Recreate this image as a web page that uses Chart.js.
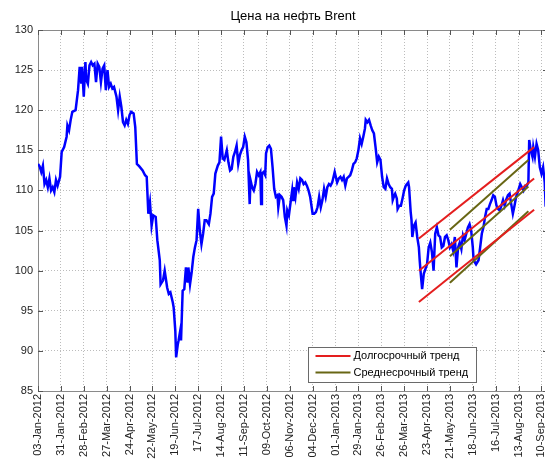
<!DOCTYPE html>
<html>
<head>
<meta charset="utf-8">
<script src="https://cdn.jsdelivr.net/npm/chart.js@4"></script>
<style>
  html, body { margin: 0; padding: 0; overflow: hidden; background: #fff; }
  #wrap { width: 552px; height: 459px; }
</style>
</head>
<body>
<div id="wrap"><canvas id="brentChart"></canvas></div>
<script>
// Brent prices, x = days since 03-Jan-2012
const startDate = '03-Jan-2012';
const endDate = '18-Sep-2013';

const priceDays = [
    0, 2, 4, 6, 8, 10, 12, 14, 16, 18, 20, 22, 24, 27, 29, 32, 35, 36, 38, 40,
    42, 46, 49, 51, 53, 54, 56, 58, 59, 61, 63, 65, 67, 69, 71, 73, 75, 77, 79, 81,
    83, 85, 87, 89, 91, 93, 96, 98, 100, 102, 104, 106, 108, 110, 112, 114, 117, 119, 121, 124,
    128, 131, 133, 135, 137, 139, 141, 144, 146, 149, 150, 153, 155, 158, 160, 162, 165, 166, 168, 169,
    171, 172, 174, 175, 177, 179, 181, 183, 184, 186, 188, 190, 192, 194, 196, 198, 200, 202, 204, 206,
    209, 211, 213, 215, 217, 220, 222, 224, 226, 228,
    231, 233, 235, 237, 239, 241, 243, 245, 247, 249, 251, 253, 255, 257, 259, 260, 262, 264, 266, 268,
    270, 272, 273, 274, 276, 278, 279, 281, 283, 285, 287, 289, 291, 293, 294, 296, 298, 300, 302, 304,
    305, 307, 309, 311, 312, 313, 315, 317, 319, 321, 323, 325, 327, 329, 331, 333, 336, 338, 340, 342,
    344, 346, 348, 350, 352, 354, 356, 358, 360, 363,
    366, 368, 370, 372, 374, 376, 378, 380, 382, 384, 386, 388, 390, 392, 394, 396, 398, 400, 401, 403,
    405, 407, 409, 411, 413, 415, 417, 419, 421, 423, 425, 427, 429, 431, 433, 434, 436, 437, 439, 440,
    442, 444, 446, 448, 450, 453, 454, 456, 457, 458, 460, 462, 464, 466, 467, 468, 470, 472, 474, 476,
    478, 480,
    482, 484, 486, 488, 490, 492, 494, 496, 498, 500, 502, 504, 506, 508, 510, 512, 514, 516, 518, 520,
    522, 524, 526, 528, 530, 532, 533, 536, 539, 541, 543, 545, 547, 549, 551, 553, 555, 557, 559, 561,
    563, 565, 567, 569, 571, 573, 575, 577, 579, 581, 583, 585, 587, 590, 592, 594, 596, 598, 600, 601,
    603, 605, 606, 608, 610, 612, 614, 616, 618, 620, 621, 623
];

const prices = [
    113.3, 113.0, 112.3, 113.1, 110.8, 111.3, 110.4, 111.5, 110.0, 110.4, 109.8, 111.3, 110.6, 111.7, 114.8, 115.4, 116.7, 118.1, 117.5, 118.8,
    119.8, 120.0, 122.5, 125.4, 123.3, 125.4, 121.7, 126.0, 123.8, 123.3, 125.6, 126.0, 125.6, 125.8, 123.5, 125.8, 125.4, 123.5, 125.2, 125.6,
    122.5, 125.0, 122.9, 123.3, 122.7, 122.9, 121.7, 120.0, 121.7, 120.4, 118.5, 118.1, 118.8, 118.3, 119.4, 119.8, 119.6, 117.9, 113.3, 113.0,
    112.5, 111.9, 111.7, 107.1, 108.5, 105.6, 106.9, 106.7, 103.8, 101.3, 98.3, 98.8, 100.0, 97.9, 97.1, 97.3, 96.0, 95.4, 92.5, 89.2,
    90.8, 91.3, 92.5, 91.3, 97.5, 97.7, 100.4, 98.5, 100.4, 98.3, 99.8, 101.7, 102.9, 103.8, 107.7, 105.0, 103.3, 104.6, 106.3, 106.3,
    105.8, 107.1, 109.2, 109.6, 112.1, 113.1, 113.5, 116.7, 114.0, 113.8,
    115.0, 113.5, 112.5, 112.7, 114.2, 114.8, 115.6, 113.3, 114.4, 115.0, 115.4, 116.7, 116.0, 113.8, 108.3, 111.3, 110.4, 110.0, 110.8, 112.3,
    111.9, 112.3, 108.3, 112.1, 112.3, 111.9, 114.6, 115.4, 115.6, 115.2, 112.9, 110.2, 109.2, 109.4, 107.9, 109.4, 109.2, 108.8, 106.7, 105.6,
    107.5, 106.9, 108.5, 110.0, 108.8, 110.4, 109.2, 111.0, 110.2, 111.5, 111.3, 110.8, 111.0, 110.6, 110.0, 109.2, 107.1, 107.1, 107.3, 107.9,
    109.2, 107.9, 108.8, 110.2, 109.2, 110.4, 110.8, 110.6, 111.0, 112.3,
    111.0, 111.5, 111.7, 111.3, 111.7, 110.6, 111.5, 111.7, 111.9, 112.5, 113.3, 113.5, 114.0, 115.0, 116.5, 115.8, 116.7, 117.7, 118.8, 118.5,
    118.8, 118.1, 117.5, 117.1, 115.4, 113.5, 114.2, 113.8, 111.7, 110.4, 110.2, 111.5, 110.8, 110.4, 110.2, 108.8, 109.4, 109.6, 109.0, 107.7,
    108.1, 108.1, 109.0, 110.0, 110.6, 111.0, 110.4, 107.3, 106.3, 104.2, 105.6, 106.0, 104.2, 102.9, 101.3, 100.0, 97.7, 99.6, 100.2, 100.8,
    102.9, 103.5,
    102.3, 100.0, 104.6, 105.4, 104.4, 104.2, 102.9, 103.1, 104.2, 104.4, 103.8, 102.9, 103.3, 102.5, 104.2, 100.4, 102.9, 103.5, 102.7, 104.4,
    103.8, 104.6, 105.4, 105.8, 105.0, 102.9, 101.3, 100.8, 101.3, 102.9, 104.6, 105.4, 106.7, 107.7, 107.7, 108.3, 108.8, 109.4, 109.2, 108.1,
    107.7, 107.5, 108.1, 108.8, 108.1, 108.9, 109.4, 109.6, 108.3, 107.1, 108.1, 109.2, 109.8, 110.8, 110.4, 110.0, 110.6, 110.6, 111.0, 116.3,
    115.0, 114.2, 115.4, 114.2, 115.8, 115.0, 112.9, 112.1, 112.9, 111.0, 108.3, 108.5
];

// Trend channels (start / end)
const longTrendDates = ['13-Apr-2013', '01-Sep-2013'];
const longTrendUpper = [104.0, 115.4];
const longTrendMiddle = [100.0, 111.5];
const longTrendLower = [96.1, 107.6];

const midTrendDates = ['21-May-2013', '25-Aug-2013'];
const midTrendUpper = [105.1, 113.8];
const midTrendMiddle = [101.8, 110.5];
const midTrendLower = [98.5, 107.4];

const xTickLabels = ['03-Jan-2012', '31-Jan-2012', '28-Feb-2012', '27-Mar-2012', '24-Apr-2012', '22-May-2012',
    '19-Jun-2012', '17-Jul-2012', '14-Aug-2012', '11-Sep-2012', '09-Oct-2012', '06-Nov-2012', '04-Dec-2012',
    '01-Jan-2013', '29-Jan-2013', '26-Feb-2013', '26-Mar-2013', '23-Apr-2013', '21-May-2013', '18-Jun-2013',
    '16-Jul-2013', '13-Aug-2013', '10-Sep-2013'];
const yTicks = [85, 90, 95, 100, 105, 110, 115, 120, 125, 130];

const titleText = 'Цена на нефть Brent';
const longTrendLabel = 'Долгосрочный тренд';
const midTrendLabel = 'Среднесрочный тренд';

const MONTHS = { Jan: 0, Feb: 1, Mar: 2, Apr: 3, May: 4, Jun: 5, Jul: 6, Aug: 7, Sep: 8, Oct: 9, Nov: 10, Dec: 11 };
function toUTC(s) {
    const [d, m, y] = s.split('-');
    return Date.UTC(+y, MONTHS[m], +d);
}
function dayOf(s) {
    return (toUTC(s) - toUTC(startDate)) / 86400000;
}

const RED = 'rgb(228, 30, 30)';
const OLIVE = 'rgb(104, 102, 20)';
const AXIS = '#8a8a8a';
const GRID = '#bcbcbc';

function trendSet(dates, values, color, label) {
    return {
        label: label,
        data: dates.map((d, i) => ({ x: dayOf(d), y: values[i] })),
        borderColor: color,
        borderWidth: 2,
        pointRadius: 0,
        fill: false
    };
}

// MATLAB-like frame: top border, inner ticks and the boxed legend
const framePlugin = {
    id: 'frame',
    afterDraw(chart) {
        const { ctx, chartArea: a, scales: { x, y } } = chart;
        ctx.save();
        ctx.lineWidth = 1;
        ctx.strokeStyle = AXIS;
        ctx.beginPath();
        ctx.moveTo(a.left, a.top + 0.5);
        ctx.lineTo(a.right, a.top + 0.5);
        ctx.stroke();

        ctx.strokeStyle = '#555';
        ctx.beginPath();
        x.ticks.forEach(t => {
            const px = Math.round(x.getPixelForValue(t.value)) + 0.5;
            ctx.moveTo(px, a.bottom); ctx.lineTo(px, a.bottom - 5);
            ctx.moveTo(px, a.top); ctx.lineTo(px, a.top + 5);
        });
        y.ticks.forEach(t => {
            const py = Math.round(y.getPixelForValue(t.value)) + 0.5;
            ctx.moveTo(a.left, py); ctx.lineTo(a.left + 5, py);
            ctx.moveTo(a.right, py); ctx.lineTo(a.right - 5, py);
        });
        ctx.stroke();

        // legend box
        const items = chart.data.datasets.filter(ds => ds.inLegend);
        const bx = a.left + 270.5, by = a.bottom - 43.5, bw = 168, bh = 35;
        ctx.fillStyle = '#fff';
        ctx.fillRect(bx, by, bw, bh);
        ctx.strokeStyle = '#6a6a6a';
        ctx.strokeRect(bx, by, bw, bh);
        ctx.font = '11px "Liberation Sans", Arial, sans-serif';
        ctx.textBaseline = 'middle';
        items.forEach((ds, i) => {
            const ly = by + 8.5 + i * 16.5;
            ctx.strokeStyle = ds.borderColor;
            ctx.lineWidth = 2;
            ctx.beginPath();
            ctx.moveTo(bx + 7, ly);
            ctx.lineTo(bx + 42, ly);
            ctx.stroke();
            ctx.fillStyle = '#000';
            ctx.fillText(ds.label, bx + 45, ly);
        });
        ctx.restore();
    }
};

Chart.defaults.font.family = '"Liberation Sans", Arial, sans-serif';
Chart.defaults.color = '#222';

const longUpper = trendSet(longTrendDates, longTrendUpper, RED, longTrendLabel);
longUpper.inLegend = true;
const midUpper = trendSet(midTrendDates, midTrendUpper, OLIVE, midTrendLabel);
midUpper.inLegend = true;

const data = {
    datasets: [
        longUpper,
        trendSet(longTrendDates, longTrendMiddle, RED, longTrendLabel),
        trendSet(longTrendDates, longTrendLower, RED, longTrendLabel),
        midUpper,
        trendSet(midTrendDates, midTrendMiddle, OLIVE, midTrendLabel),
        trendSet(midTrendDates, midTrendLower, OLIVE, midTrendLabel),
        {
            label: 'Brent',
            data: priceDays.map((d, i) => ({ x: d, y: prices[i] })),
            borderColor: '#0000ff',
            borderWidth: 2.5,
            pointRadius: 0,
            tension: 0,
            fill: false
        }
    ]
};

const config = {
    type: 'line',
    data: data,
    plugins: [framePlugin],
    options: {
        responsive: true,
        maintainAspectRatio: false,
        animation: false,
        events: [],
        layout: { padding: { left: 0, right: 4, top: 0, bottom: 0 } },
        plugins: {
            legend: { display: false },
            tooltip: { enabled: false },
            title: {
                display: true,
                text: titleText,
                fullSize: false,
                color: '#000',
                font: { size: 13, weight: 'normal' },
                padding: { top: 9, bottom: 5.4 }
            }
        },
        scales: {
            x: {
                type: 'linear',
                min: 0,
                max: dayOf(endDate),
                afterBuildTicks: scale => {
                    scale.ticks = xTickLabels.map(l => ({ value: dayOf(l) }));
                },
                afterFit: scale => {
                    scale.height = 68;
                    scale.paddingLeft = 0;
                    scale.paddingRight = 0;
                },
                grid: { color: GRID, lineWidth: 1, drawTicks: false },
                border: { color: AXIS, width: 1, dash: [1, 2] },
                ticks: {
                    autoSkip: false,
                    minRotation: 90,
                    maxRotation: 90,
                    padding: 3,
                    font: { size: 11 },
                    callback: (value, index) => xTickLabels[index]
                }
            },
            y: {
                type: 'linear',
                min: 85,
                max: 130,
                afterBuildTicks: scale => {
                    scale.ticks = yTicks.map(v => ({ value: v }));
                },
                afterFit: scale => {
                    scale.width = 38;
                    scale.paddingTop = 0;
                    scale.paddingBottom = 0;
                },
                grid: { color: GRID, lineWidth: 1, drawTicks: false },
                border: { color: AXIS, width: 1, dash: [1, 2] },
                ticks: {
                    padding: 5,
                    font: { size: 11 }
                }
            }
        }
    }
};

const brentChart = new Chart(document.getElementById('brentChart'), config);
</script>
</body>
</html>
